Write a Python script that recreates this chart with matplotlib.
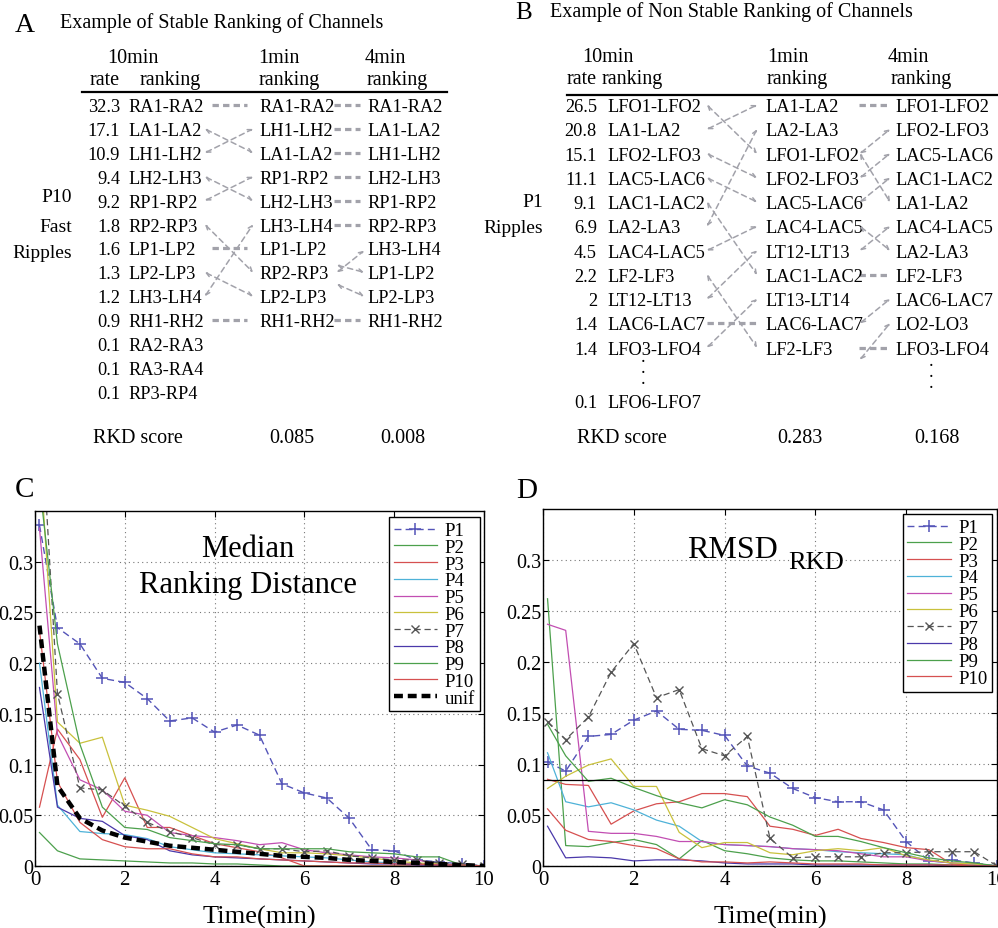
import matplotlib
matplotlib.use('Agg')
import matplotlib.pyplot as plt

plt.rcParams['font.family'] = ['Liberation Serif', 'DejaVu Serif']

# ---------------------------------------------------------------- data A
A_TITLE = 'Example of Stable Ranking of Channels'
A_RATE = ['32.3', '17.1', '10.9', '9.4', '9.2', '1.8', '1.6', '1.3', '1.2', '0.9', '0.1', '0.1', '0.1']
A_RANK_10 = ['RA1-RA2', 'LA1-LA2', 'LH1-LH2', 'LH2-LH3', 'RP1-RP2', 'RP2-RP3', 'LP1-LP2',
             'LP2-LP3', 'LH3-LH4', 'RH1-RH2', 'RA2-RA3', 'RA3-RA4', 'RP3-RP4']
A_RANK_1 = ['RA1-RA2', 'LH1-LH2', 'LA1-LA2', 'RP1-RP2', 'LH2-LH3', 'LH3-LH4', 'LP1-LP2',
            'RP2-RP3', 'LP2-LP3', 'RH1-RH2']
A_RANK_4 = ['RA1-RA2', 'LA1-LA2', 'LH1-LH2', 'LH2-LH3', 'RP1-RP2', 'RP2-RP3', 'LH3-LH4',
            'LP1-LP2', 'LP2-LP3', 'RH1-RH2']
# ligacoes desenhadas entre colunas: (linha da esquerda, linha da direita)
A_LINKS_10_1 = [(0, 0), (1, 2), (2, 1), (3, 4), (4, 3), (5, 7), (6, 6), (7, 8), (8, 5), (9, 9)]
A_LINKS_1_4 = [(0, 0), (1, 1), (2, 2), (3, 3), (4, 4), (5, 5), (7, 6.1), (6.7, 7), (7.5, 8), (9, 9)]
A_RKD = ['0.085', '0.008']
A_SIDE = ['P10', 'Fast', 'Ripples']

# ---------------------------------------------------------------- data B
B_TITLE = 'Example of Non Stable Ranking of Channels'
B_RATE = ['26.5', '20.8', '15.1', '11.1', '9.1', '6.9', '4.5', '2.2', '2', '1.4', '1.4']
B_RANK_10 = ['LFO1-LFO2', 'LA1-LA2', 'LFO2-LFO3', 'LAC5-LAC6', 'LAC1-LAC2', 'LA2-LA3',
             'LAC4-LAC5', 'LF2-LF3', 'LT12-LT13', 'LAC6-LAC7', 'LFO3-LFO4']
B_RANK_1 = ['LA1-LA2', 'LA2-LA3', 'LFO1-LFO2', 'LFO2-LFO3', 'LAC5-LAC6', 'LAC4-LAC5',
            'LT12-LT13', 'LAC1-LAC2', 'LT13-LT14', 'LAC6-LAC7', 'LF2-LF3']
B_RANK_4 = ['LFO1-LFO2', 'LFO2-LFO3', 'LAC5-LAC6', 'LAC1-LAC2', 'LA1-LA2', 'LAC4-LAC5',
            'LA2-LA3', 'LF2-LF3', 'LAC6-LAC7', 'LO2-LO3', 'LFO3-LFO4']
B_LAST = ('0.1', 'LFO6-LFO7')
B_LINKS_10_1 = [(0, 2), (1, 0), (2, 3), (3, 4), (4, 7), (5, 1), (6, 5), (7, 10), (8, 6), (9, 9), (10, 8)]
B_LINKS_1_4 = [(0, 0), (2, 1), (3, 2), (2, 4), (4, 3), (6, 5), (5, 6), (7, 7), (9, 8), (10.5, 9), (10, 10)]
B_RKD = ['0.283', '0.168']
B_SIDE = ['P1', 'Ripples']

# ---------------------------------------------------------------- data C / D
TIME = [0.1, 0.5, 1, 1.5, 2, 2.5, 3, 3.5, 4, 4.5, 5, 5.5, 6, 6.5, 7, 7.5, 8, 8.5, 9, 9.5, 10]
SERIES = ['P1', 'P2', 'P3', 'P4', 'P5', 'P6', 'P7', 'P8', 'P9', 'P10']

MED = {
    'P1': [0.336, 0.235, 0.219, 0.185, 0.181, 0.165, 0.143, 0.146, 0.132, 0.139, 0.129,
           0.081, 0.072, 0.067, 0.047, 0.016, 0.015, 0.006, 0.004, 0.002, 0.0],
    'P2': [0.033, 0.015, 0.007, 0.006, 0.005, 0.004, 0.003, 0.003, 0.002, 0.002, 0.001,
           0.0, 0.0, 0.0, 0.0, 0.0, 0.0, 0.0, 0.0, 0.0, 0.0],
    'P3': [0.058, 0.135, 0.105, 0.048, 0.087, 0.038, 0.038, 0.030, 0.022, 0.018, 0.014,
           0.008, 0.0, 0.0, 0.0, 0.0, 0.0, 0.0, 0.0, 0.0, 0.0],
    'P4': [0.200, 0.060, 0.034, 0.032, 0.031, 0.027, 0.019, 0.016, 0.013, 0.012, 0.011,
           0.010, 0.009, 0.008, 0.006, 0.004, 0.003, 0.002, 0.002, 0.001, 0.0],
    'P5': [0.333, 0.130, 0.085, 0.075, 0.054, 0.050, 0.033, 0.030, 0.028, 0.025, 0.021,
           0.023, 0.016, 0.013, 0.011, 0.009, 0.008, 0.006, 0.002, 0.001, 0.0],
    'P6': [0.410, 0.142, 0.121, 0.127, 0.060, 0.055, 0.049, 0.038, 0.027, 0.022, 0.017,
           0.013, 0.013, 0.012, 0.010, 0.008, 0.005, 0.003, 0.002, 0.001, 0.0],
    'P7': [0.470, 0.170, 0.077, 0.075, 0.059, 0.043, 0.034, 0.028, 0.021, 0.021, 0.017,
           0.017, 0.014, 0.015, 0.010, 0.008, 0.006, 0.006, 0.003, 0.002, 0.0],
    'P8': [0.176, 0.058, 0.047, 0.044, 0.030, 0.026, 0.015, 0.011, 0.009, 0.008, 0.007,
           0.006, 0.005, 0.004, 0.003, 0.002, 0.002, 0.001, 0.001, 0.001, 0.0],
    'P9': [0.377, 0.219, 0.120, 0.058, 0.038, 0.036, 0.028, 0.025, 0.022, 0.021, 0.017,
           0.017, 0.017, 0.017, 0.014, 0.013, 0.012, 0.009, 0.009, 0.001, 0.0],
    'P10': [0.232, 0.083, 0.043, 0.026, 0.019, 0.017, 0.017, 0.012, 0.009, 0.009, 0.007,
            0.006, 0.005, 0.004, 0.003, 0.003, 0.002, 0.002, 0.001, 0.001, 0.0],
}
MED_UNIF = [0.237, 0.079, 0.047, 0.035, 0.028, 0.024, 0.020, 0.018, 0.016, 0.014, 0.012,
            0.010, 0.009, 0.008, 0.006, 0.005, 0.004, 0.003, 0.002, 0.001, 0.0]

RMSD = {
    'P1': [0.102, 0.093, 0.127, 0.129, 0.143, 0.152, 0.134, 0.133, 0.128, 0.098, 0.091,
           0.076, 0.067, 0.063, 0.063, 0.055, 0.024, 0.005, 0.006, 0.003, 0.0],
    'P2': [0.262, 0.020, 0.019, 0.023, 0.026, 0.021, 0.007, 0.025, 0.015, 0.012, 0.008,
           0.006, 0.005, 0.005, 0.004, 0.003, 0.002, 0.002, 0.001, 0.001, 0.0],
    'P3': [0.085, 0.080, 0.079, 0.041, 0.054, 0.061, 0.063, 0.071, 0.071, 0.068, 0.039,
           0.036, 0.030, 0.036, 0.027, 0.023, 0.018, 0.016, 0.002, 0.001, 0.0],
    'P4': [0.111, 0.063, 0.058, 0.062, 0.055, 0.045, 0.039, 0.024, 0.021, 0.020, 0.019,
           0.017, 0.016, 0.014, 0.013, 0.012, 0.011, 0.005, 0.003, 0.002, 0.0],
    'P5': [0.237, 0.231, 0.034, 0.032, 0.032, 0.029, 0.024, 0.024, 0.021, 0.020, 0.019,
           0.017, 0.016, 0.015, 0.012, 0.009, 0.009, 0.005, 0.003, 0.002, 0.0],
    'P6': [0.076, 0.088, 0.099, 0.105, 0.078, 0.078, 0.033, 0.018, 0.023, 0.023, 0.013,
           0.011, 0.015, 0.017, 0.015, 0.018, 0.010, 0.006, 0.003, 0.002, 0.0],
    'P7': [0.141, 0.124, 0.146, 0.190, 0.218, 0.165, 0.173, 0.115, 0.108, 0.127, 0.027,
           0.008, 0.009, 0.009, 0.009, 0.013, 0.013, 0.014, 0.014, 0.014, 0.0],
    'P8': [0.039, 0.008, 0.009, 0.008, 0.005, 0.006, 0.006, 0.005, 0.003, 0.002, 0.002,
           0.002, 0.001, 0.001, 0.001, 0.001, 0.001, 0.001, 0.0, 0.0, 0.0],
    'P9': [0.139, 0.108, 0.083, 0.086, 0.077, 0.069, 0.062, 0.057, 0.065, 0.060, 0.048,
           0.040, 0.029, 0.029, 0.024, 0.018, 0.013, 0.008, 0.005, 0.003, 0.0],
    'P10': [0.056, 0.035, 0.026, 0.024, 0.020, 0.017, 0.007, 0.004, 0.004, 0.003, 0.004,
            0.003, 0.002, 0.002, 0.002, 0.001, 0.001, 0.001, 0.001, 0.0, 0.0],
}
RMSD_LEVEL = 0.084

X_TICKS = [0, 2, 4, 6, 8, 10]
Y_TICKS = [0, 0.05, 0.1, 0.15, 0.2, 0.25, 0.3]
Y_TICK_LABELS = ['0', '0.05', '0.1', '0.15', '0.2', '0.25', '0.3']

# ---------------------------------------------------------------- estilo
COLORS = {'P1': '#5454b8', 'P2': '#4ca04c', 'P3': '#d65050', 'P4': '#4eb2d8',
          'P5': '#c24eb2', 'P6': '#c9c13c', 'P7': '#555555', 'P8': '#4a38aa',
          'P9': '#4ca04c', 'P10': '#d65050'}
LINK_GRAY = '#a2a2aa'
FS_ROW = 13.2
FS_HDR = 14.5

LAYOUT_A = dict(letter=(15, 32, 20), title=(60, 28), hdr1=63, hdr2=85,
                line_y=93, line_x=(82, 447), rate_x=120, col_x=[128, 259, 367],
                row0=112, dy=23.9,
                hdr_10=133, hdr_rate=120, hdr_rank=[140, 259, 367], hdr_min=[258, 365],
                gaps=[(205, 253, 212, 247), (337, 364, 334, 360)],
                rkd_y=443, rkd_x=93, rkd_vals=[292, 403],
                side_x=72, side_y=[202, 232, 258])
LAYOUT_B = dict(letter=(515, 19, 18), title=(550, 17), hdr1=62, hdr2=84,
                line_y=96, line_x=(567, 998), rate_x=597, col_x=[607, 765, 895],
                row0=112, dy=24.25,
                hdr_10=608, hdr_rate=597, hdr_rank=[602, 767, 891], hdr_min=[767, 888],
                gaps=[(707, 757, 707, 757), (860, 890, 859, 888)],
                rkd_y=443, rkd_x=577, rkd_vals=[800, 937],
                side_x=543, side_y=[207, 233],
                last_row=12.2, dots=[(643, 384), (931, 388)])


def desenhar_tabela(ax, L, letra, titulo, rates, cols, links, rkd, side):
    """Tabela de rankings com as setas tracejadas entre colunas."""
    lx, ly, lfs = L['letter']
    ax.text(lx, ly, letra, fontsize=lfs, ha='left', va='baseline')
    ax.text(L['title'][0], L['title'][1], titulo, fontsize=FS_HDR, ha='left', va='baseline')

    ax.text(L['hdr_10'], L['hdr1'], '10min', fontsize=FS_HDR, ha='center', va='baseline')
    for x, t in zip(L['hdr_min'], ['1min', '4min']):
        ax.text(x, L['hdr1'], t, fontsize=FS_HDR, ha='left', va='baseline')
    ax.text(L['hdr_rate'], L['hdr2'], 'rate', fontsize=FS_HDR, ha='right', va='baseline')
    for x in L['hdr_rank']:
        ax.text(x, L['hdr2'], 'ranking', fontsize=FS_HDR, ha='left', va='baseline')
    ax.plot(L['line_x'], [L['line_y'], L['line_y']], color='black', lw=1.6)

    def base(r):
        return L['row0'] + L['dy'] * r

    for i, r in enumerate(rates):
        ax.text(L['rate_x'], base(i), r, fontsize=FS_ROW, ha='right', va='baseline')
    for c, nomes in enumerate(cols):
        for i, n in enumerate(nomes):
            ax.text(L['col_x'][c], base(i), n, fontsize=FS_ROW, ha='left', va='baseline')

    for g, pares in enumerate(links):
        xa, xb, sa, sb = L['gaps'][g]
        for r0, r1 in pares:
            y0, y1 = base(r0) - 6, base(r1) - 6
            if r0 == r1:
                ax.plot([sa, sb], [y0, y1], color=LINK_GRAY, lw=2.3,
                        ls=(0, (2.0, 1.3)), solid_capstyle='butt')
            else:
                ax.annotate('', xy=(xb, y1), xytext=(xa, y0),
                            arrowprops=dict(arrowstyle='<->', color=LINK_GRAY, lw=1.1,
                                            ls=(0, (3.5, 2.5)), shrinkA=0, shrinkB=0,
                                            mutation_scale=7))

    ax.text(L['rkd_x'], L['rkd_y'], 'RKD score', fontsize=FS_HDR, ha='left', va='baseline')
    for x, v in zip(L['rkd_vals'], rkd):
        ax.text(x, L['rkd_y'], v, fontsize=FS_HDR, ha='center', va='baseline')
    for t, y in zip(side, L['side_y']):
        ax.text(L['side_x'], y, t, fontsize=14, ha='right', va='baseline')


def configurar_eixo(ax):
    ax.set_xlim(0, 10)
    ax.set_ylim(0, 0.35)
    ax.set_xticks(X_TICKS)
    ax.set_xticklabels([str(t) for t in X_TICKS])
    ax.set_yticks(Y_TICKS)
    ax.set_yticklabels(Y_TICK_LABELS)
    ax.grid(True, ls=(0, (1, 3)), color='#777777', lw=0.8)
    ax.set_axisbelow(True)
    ax.tick_params(direction='in', top=True, right=True, length=4, labelsize=14.5, pad=1)
    ax.tick_params(axis='x', labelsize=15, pad=3)
    for s in ax.spines.values():
        s.set_linewidth(1.0)
    ax.set_xlabel('Time(min)', fontsize=19, labelpad=11)


def plotar_series(ax, dados):
    for nome in SERIES:
        if nome == 'P1':
            ax.plot(TIME, dados[nome], color=COLORS[nome], ls=(0, (5, 3)), lw=1.0,
                    marker='+', ms=8, mew=1.1, label=nome)
        elif nome == 'P7':
            ax.plot(TIME, dados[nome], color=COLORS[nome], ls=(0, (5, 3)), lw=0.9,
                    marker='x', ms=5.5, mew=1.0, label=nome)
        else:
            ax.plot(TIME, dados[nome], color=COLORS[nome], lw=0.9, label=nome)


def colocar_legenda(ax, ancora):
    ax.legend(loc='upper right', bbox_to_anchor=ancora, borderaxespad=0,
              fontsize=13.5, labelspacing=-0.02, handlelength=2.3, handletextpad=0.4,
              borderpad=0.25, fancybox=False, framealpha=1, edgecolor='black')


fig = plt.figure(figsize=(9.98, 9.29), dpi=100)

# ---- paineis C e D
axC = fig.add_axes([35 / 998, 62 / 929, 449 / 998, 355 / 929])
plotar_series(axC, MED)
axC.plot(TIME, MED_UNIF, color='black', lw=3.2, ls=(0, (2.0, 1.1)), label='unif')
configurar_eixo(axC)
colocar_legenda(axC, (0.99, 0.982))

axD = fig.add_axes([543 / 998, 62 / 929, 454 / 998, 357 / 929])
plotar_series(axD, RMSD)
axD.axhline(RMSD_LEVEL, color='black', lw=0.9)
configurar_eixo(axD)
colocar_legenda(axD, (0.989, 0.985))

# ---- camada em pixels para A, B e textos soltos
ov = fig.add_axes([0, 0, 1, 1], zorder=10)
ov.set_xlim(0, 998)
ov.set_ylim(929, 0)
ov.axis('off')

desenhar_tabela(ov, LAYOUT_A, 'A', A_TITLE, A_RATE, [A_RANK_10, A_RANK_1, A_RANK_4],
                [A_LINKS_10_1, A_LINKS_1_4], A_RKD, A_SIDE)
desenhar_tabela(ov, LAYOUT_B, 'B', B_TITLE, B_RATE, [B_RANK_10, B_RANK_1, B_RANK_4],
                [B_LINKS_10_1, B_LINKS_1_4], B_RKD, B_SIDE)

yb = LAYOUT_B['row0'] + LAYOUT_B['dy'] * LAYOUT_B['last_row']
ov.text(LAYOUT_B['rate_x'], yb, B_LAST[0], fontsize=FS_ROW, ha='right', va='baseline')
ov.text(LAYOUT_B['col_x'][0], yb, B_LAST[1], fontsize=FS_ROW, ha='left', va='baseline')
for dx, dy in LAYOUT_B['dots']:
    ov.text(dx, dy, '.\n.\n.', fontsize=FS_ROW, ha='center', va='baseline', linespacing=0.55)

ov.text(15, 497, 'C', fontsize=21, ha='left', va='baseline')
ov.text(516, 498, 'D', fontsize=21, ha='left', va='baseline')
ov.text(248, 557, 'Median', fontsize=22, ha='center', va='baseline')
ov.text(248, 593, 'Ranking Distance', fontsize=22, ha='center', va='baseline')
ov.text(687, 558, 'RMSD', fontsize=23, ha='left', va='baseline')
ov.text(788, 569, 'RKD', fontsize=19, ha='left', va='baseline')

fig.savefig('out.png', dpi=100)
